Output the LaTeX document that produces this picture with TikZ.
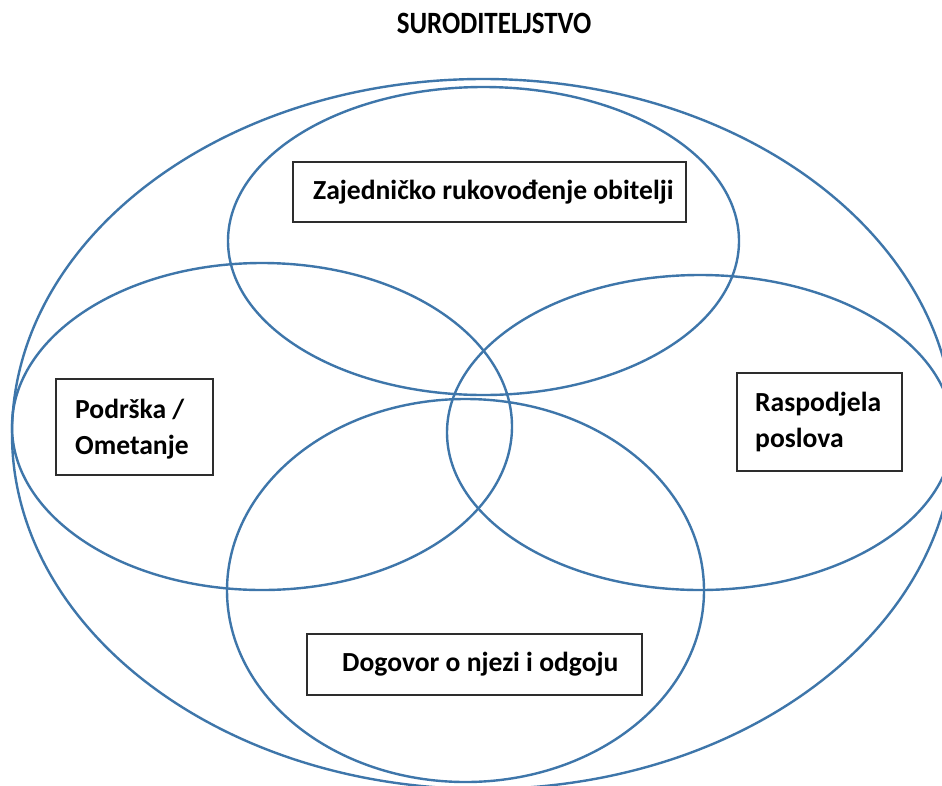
\documentclass[tikz,border=0pt]{standalone}
\usepackage{fontspec}
\setmainfont{Carlito}
\newfontfamily\ttlfont{Carlito}[FakeStretch=0.87]
\usetikzlibrary{shapes.geometric}
\definecolor{ringblue}{RGB}{62,118,170}
\definecolor{boxgray}{RGB}{45,45,45}
\newcommand{\twolines}[2]{\vtop{\hbox{#1}\hbox{#2}}}
\begin{document}
\begin{tikzpicture}[x=1pt,y=-1pt,
  ring/.style={draw=ringblue, line width=2.4pt, ellipse, inner sep=0pt, outer sep=0pt},
  labelbox/.style={draw=boxgray, line width=1.7pt, rectangle, inner sep=0pt, fill=white},
  lbl/.style={font=\fontsize{27.6}{36}\selectfont\bfseries, inner sep=0pt, anchor=base west},
  ttl/.style={font=\ttlfont\fontsize{31}{36}\selectfont\bfseries, inner sep=0pt, anchor=base}]
\useasboundingbox (0,0) rectangle (942,785);
\clip (0,0) rectangle (942,785);
\fill[white] (0,0) rectangle (942,785);
% rings
\node[ring, minimum width=942pt, minimum height=710pt] (big) at (483,434) {};
\node[ring, minimum width=511pt, minimum height=308pt] (top) at (483.5,241) {};
\node[ring, minimum width=500pt, minimum height=327pt] (left) at (262,426.5) {};
\node[ring, minimum width=506pt, minimum height=315pt] (right) at (700,432.5) {};
\node[ring, minimum width=477pt, minimum height=383pt] (bottom) at (465.5,590.5) {};
% boxes
\node[labelbox, minimum width=393pt, minimum height=60pt] (boxtop) at (489.5,192) {};
\node[labelbox, minimum width=157pt, minimum height=96pt] (boxleft) at (134.5,427) {};
\node[labelbox, minimum width=165pt, minimum height=98pt] (boxright) at (819.5,422) {};
\node[labelbox, minimum width=335pt, minimum height=61pt] (boxbottom) at (474.5,664.5) {};
% texts
\node[lbl] (ttop) at (313,199) {Zajedničko rukovođenje obitelji};
\node[lbl] (tleft) at (75,418) {\twolines{Podrška /}{Ometanje}};
\node[lbl] (tright) at (755,411) {\twolines{Raspodjela}{poslova}};
\node[lbl] (tbottom) at (342,671) {Dogovor o njezi i odgoju};
\node[ttl] (title) at (494,33) {SURODITELJSTVO};
\end{tikzpicture}
\end{document}
